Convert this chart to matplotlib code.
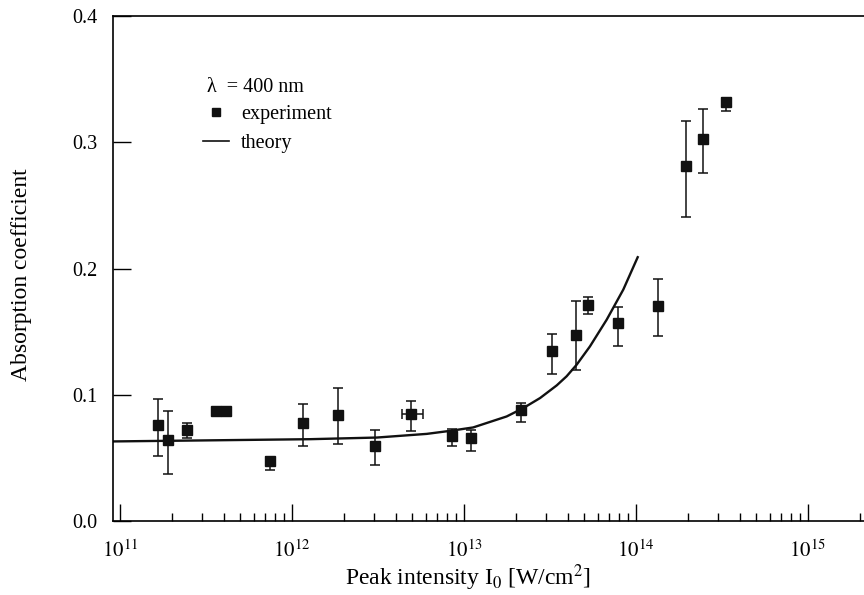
import numpy as np
import matplotlib
matplotlib.use("Agg")
import matplotlib.pyplot as plt
from matplotlib.lines import Line2D

plt.rcParams['font.family'] = ['Liberation Serif', 'DejaVu Serif']
plt.rcParams['mathtext.fontset'] = 'stix'

# experiment data
exp_x = [1.67e11, 1.90e11, 2.45e11, 3.61e11, 4.12e11, 7.41e11, 1.16e12, 1.86e12,
         3.05e12, 4.92e12, 8.51e12, 1.10e13, 2.14e13, 3.23e13, 4.46e13, 5.28e13,
         7.84e13, 1.35e14, 1.95e14, 2.46e14, 3.33e14]
exp_y = [0.0762, 0.0643, 0.0717, 0.0873, 0.0868, 0.0476, 0.0773, 0.0841,
         0.0598, 0.0847, 0.0677, 0.0656, 0.0881, 0.1344, 0.1476, 0.1712,
         0.1569, 0.1701, 0.2810, 0.3029, 0.3317]
err_hi = [0.0966, 0.0868, 0.0775, 0.0873, 0.0868, 0.0505, 0.0929, 0.1053,
          0.0717, 0.0947, 0.0730, 0.0722, 0.0934, 0.1484, 0.1744, 0.1772,
          0.1696, 0.1918, 0.3169, 0.3267, 0.3350]
err_lo = [0.0516, 0.0370, 0.0660, 0.0873, 0.0868, 0.0405, 0.0598, 0.0606,
          0.0442, 0.0709, 0.0593, 0.0556, 0.0788, 0.1167, 0.1198, 0.1640,
          0.1389, 0.1463, 0.2410, 0.2754, 0.3250]
xerr_lo = [4.35e12]
xerr_hi = [5.80e12]
xerr_idx = [9]

# theory curve
th_x = [8.75e10, 2.92e11, 1.27e12, 3.11e12, 6.07e12, 8.30e12, 1.13e13, 1.77e13,
        2.21e13, 2.77e13, 3.46e13, 3.95e13, 4.52e13, 5.40e13, 6.76e13, 8.44e13,
        1.03e14]
th_y = [0.0630, 0.0638, 0.0648, 0.0661, 0.0690, 0.0714, 0.0741, 0.0828,
        0.0894, 0.0974, 0.1074, 0.1146, 0.1238, 0.1383, 0.1595, 0.1833,
        0.2098]

xticks = [1e11, 1e12, 1e13, 1e14, 1e15]
xticklabels = ['$10^{11}$', '$10^{12}$', '$10^{13}$', '$10^{14}$', '$10^{15}$']
yticks = [0.0, 0.1, 0.2, 0.3, 0.4]
yticklabels = ['0.0', '0.1', '0.2', '0.3', '0.4']

fig = plt.figure(figsize=(8.64, 5.95), dpi=100)
ax = fig.add_axes([113/864, 1-521/595, 1-113/864, (521-16)/595])

ax.plot(th_x, th_y, color='#111111', lw=1.7, zorder=2,
        solid_joinstyle='round', solid_capstyle='butt')

ex = np.array(exp_x); ey = np.array(exp_y)
yerr = np.array([ey - np.array(err_lo), np.array(err_hi) - ey])
ax.errorbar(ex, ey, yerr=yerr, fmt='none', ecolor='#111111', elinewidth=1.1,
            capsize=3.5, capthick=1.1, zorder=3)
for k, i in enumerate(xerr_idx):
    ax.errorbar([exp_x[i]], [exp_y[i]],
                xerr=[[exp_x[i]-xerr_lo[k]], [xerr_hi[k]-exp_x[i]]],
                fmt='none', ecolor='#111111', elinewidth=1.1, capsize=3.5,
                capthick=1.1, zorder=3)
ax.plot(ex, ey, 's', color='#111111', ms=7, zorder=4)

ax.set_xscale('log')
ax.set_xlim(10**10.959, 10**15.326)
ax.set_ylim(0.0, 0.4)
ax.set_xticks(xticks)
ax.set_xticklabels(xticklabels, fontsize=15)
ax.set_yticks(yticks)
ax.set_yticklabels(yticklabels, fontsize=14.5)
ax.xaxis.set_minor_locator(matplotlib.ticker.LogLocator(base=10, subs=np.arange(2, 10)))
ax.xaxis.set_minor_formatter(matplotlib.ticker.NullFormatter())
ax.tick_params(axis='x', which='major', direction='in', length=12, width=1, pad=14)
ax.tick_params(axis='x', which='minor', direction='in', length=6, width=1)
ax.tick_params(axis='y', which='major', direction='in', length=13, width=1, pad=11)
ax.tick_params(top=False, right=False)
ax.spines['right'].set_visible(False)
for s in ['left', 'bottom', 'top']:
    ax.spines[s].set_linewidth(1.2)

ax.set_xlabel('Peak intensity I$_0$ [W/cm$^2$]', fontsize=17, labelpad=5)
ax.xaxis.set_label_coords((468-113)/751, -(578-521)/505)
ax.xaxis.label.set_va('center')
ax.set_ylabel('Absorption coefficient', fontsize=17)
ax.yaxis.set_label_coords(-(113-22)/751, (521-275)/505)
ax.yaxis.label.set_va('center')

ax.text((207-113)/751, (521-87)/505, 'λ  = 400 nm', fontsize=14.5,
        transform=ax.transAxes, ha='left', va='center')
handles = [Line2D([], [], marker='s', ls='none', color='#111111', ms=5.5),
           Line2D([], [], color='#111111', lw=1.2)]
leg = ax.legend(handles, ['experiment', 'theory'],
                fontsize=14.5, frameon=False, borderpad=0, borderaxespad=0,
                loc='upper left', bbox_to_anchor=((203-113)/751, (521-105)/505),
                handlelength=1.3, handletextpad=0.6, labelspacing=0.5)

fig.savefig('out.png', dpi=100)
